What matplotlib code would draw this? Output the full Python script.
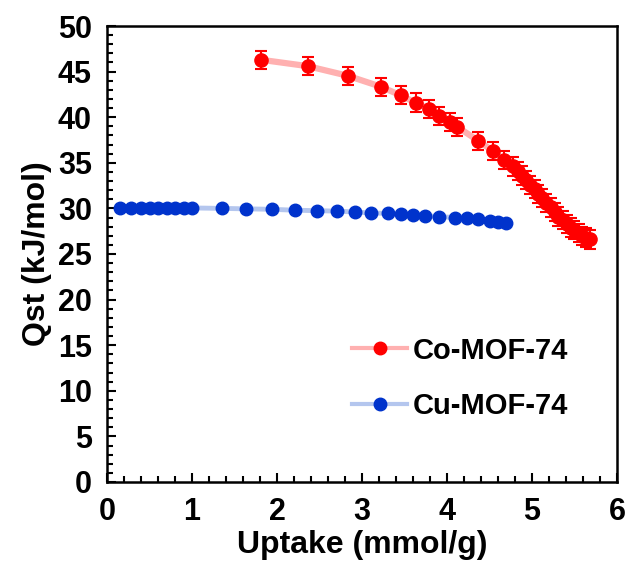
import numpy as np
import matplotlib.pyplot as plt
from matplotlib.lines import Line2D
from matplotlib.ticker import MultipleLocator

plt.rcParams['font.family'] = ['Liberation Sans', 'DejaVu Sans']
plt.rcParams['font.weight'] = 'bold'

# Co-MOF-74 isosteric heat (with error bars)
co_x = [1.81, 2.36, 2.83, 3.22, 3.455, 3.63, 3.79, 3.91, 4.035, 4.12, 4.37, 4.54, 4.67,
        4.78, 4.83, 4.88, 4.93, 4.98, 5.03, 5.07, 5.12, 5.17, 5.22, 5.27, 5.31, 5.36,
        5.41, 5.46, 5.50, 5.55, 5.59, 5.64, 5.68]
co_y = [46.3, 45.6, 44.55, 43.35, 42.4, 41.6, 40.9, 40.1, 39.5, 38.95, 37.4, 36.3, 35.3,
        34.6, 34.1, 33.6, 33.1, 32.6, 32.1, 31.6, 31.1, 30.6, 30.1, 29.6, 29.1, 28.7,
        28.3, 27.9, 27.6, 27.3, 27.0, 26.8, 26.6]
co_err = [1.0] * len(co_x)

# Cu-MOF-74
cu_x = [0.15, 0.28, 0.40, 0.50, 0.60, 0.70, 0.80, 0.90, 1.0, 1.35, 1.64, 1.94, 2.21,
        2.47, 2.71, 2.92, 3.11, 3.30, 3.455, 3.60, 3.74, 3.90, 4.09, 4.23, 4.37, 4.50,
        4.60, 4.70]
cu_y = [30.05, 30.05, 30.05, 30.05, 30.05, 30.05, 30.05, 30.05, 30.05, 30.0, 29.95,
        29.9, 29.8, 29.75, 29.7, 29.6, 29.5, 29.45, 29.35, 29.3, 29.2, 29.1, 29.0,
        28.9, 28.8, 28.65, 28.55, 28.4]

red = '#ff0000'
red_line = '#ffb0b0'
blue = '#0033cc'
blue_line = '#b4c6ee'

fig = plt.figure(figsize=(6.26, 5.74), dpi=100)
ax = fig.add_axes([0.171, 0.1603, 0.8146, 0.7944])

ax.plot(co_x, co_y, color=red_line, lw=4.5, zorder=1)
ax.errorbar(co_x, co_y, yerr=co_err, fmt='o', color=red, ms=9.5, ecolor=red,
            elinewidth=1.5, capsize=4, capthick=1.5, zorder=3)
ax.plot(cu_x, cu_y, color=blue_line, lw=3.5, zorder=1)
ax.plot(cu_x, cu_y, 'o', color=blue, ms=9, zorder=2)

ax.set_xlim(0, 6)
ax.set_ylim(0, 50)
ax.xaxis.set_major_locator(MultipleLocator(1))
ax.xaxis.set_minor_locator(MultipleLocator(0.2))
ax.yaxis.set_major_locator(MultipleLocator(5))
ax.yaxis.set_minor_locator(MultipleLocator(1))
ax.tick_params(which='both', direction='in', width=1.5)
ax.tick_params(which='major', length=6.5)
ax.tick_params(which='minor', length=4.5)
ax.tick_params(axis='y', which='major', pad=11)
ax.tick_params(axis='x', which='major', pad=11)
for lab in ax.get_xticklabels() + ax.get_yticklabels():
    lab.set_fontsize(22)
    lab.set_fontweight('bold')
for s in ax.spines.values():
    s.set_linewidth(1.8)
    s.set_color('black')

ax.set_xlabel('Uptake (mmol/g)', fontsize=23, fontweight='bold', labelpad=2)
ax.set_ylabel('Qst (kJ/mol)', fontsize=23, fontweight='bold', labelpad=4)

handles = [
    Line2D([], [], color=red_line, lw=3, marker='o', mfc=red, mec=red, ms=9),
    Line2D([], [], color=blue_line, lw=3, marker='o', mfc=blue, mec=blue, ms=9),
]
ax.legend(handles, ['Co-MOF-74', 'Cu-MOF-74'], loc='center left',
          bbox_to_anchor=(0.48, 0.227), frameon=False,
          prop={'weight': 'bold', 'size': 21}, handlelength=1.9,
          labelspacing=0.95, handletextpad=0.2, borderpad=0, borderaxespad=0)

fig.savefig('out.png', dpi=100)
